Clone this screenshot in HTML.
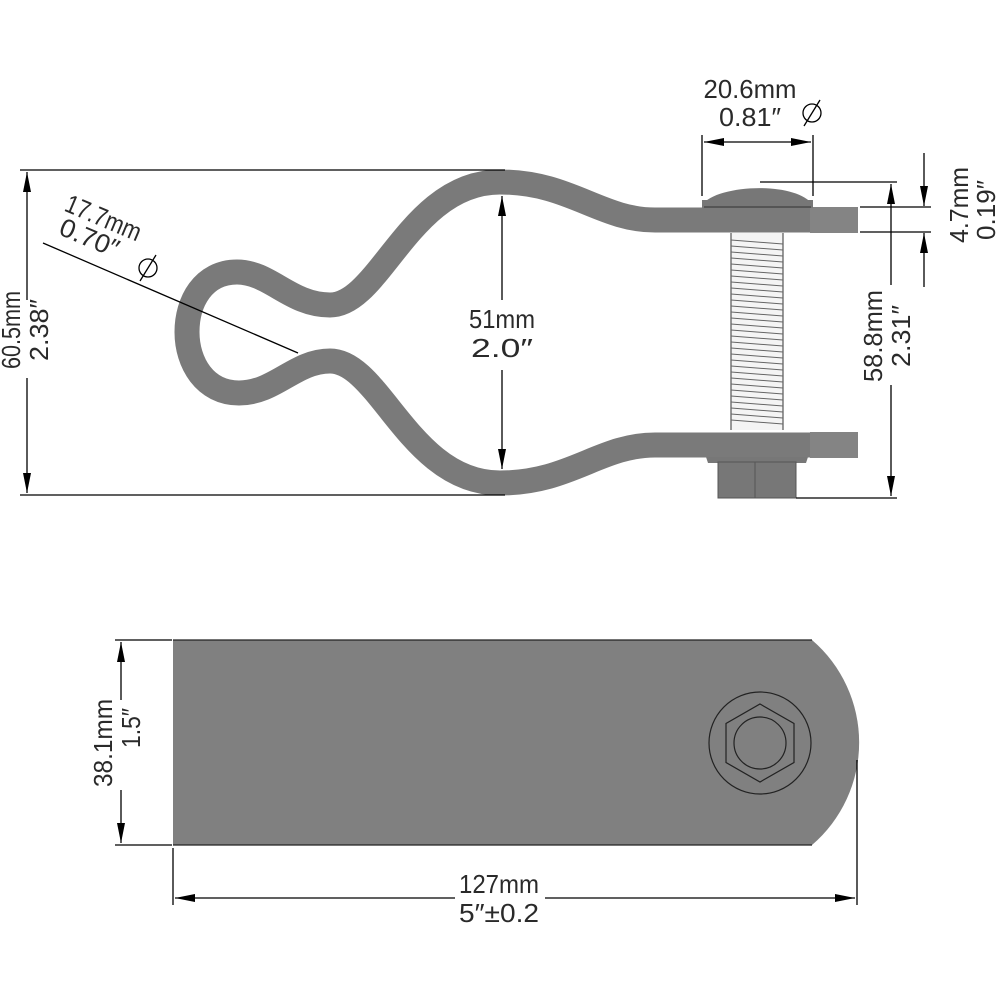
<!DOCTYPE html>
<html><head><meta charset="utf-8"><style>
html,body{margin:0;padding:0;background:#fff;}
svg{display:block;}
text{font-family:"Liberation Sans Narrow","Liberation Sans",sans-serif;font-size:26px;fill:#2a2a2a;}
</style></head><body>
<svg width="1000" height="1000" viewBox="0 0 1000 1000" xmlns="http://www.w3.org/2000/svg">
<defs>
<marker id="a" viewBox="0 0 20 8" refX="20" refY="4" markerWidth="20" markerHeight="8" markerUnits="userSpaceOnUse" orient="auto-start-reverse"><path d="M0 0L20 4L0 8z" fill="#000"/></marker>
</defs>
<!-- clamp side view -->
<path d="M858 220 L655 220 C600 220 570 182 500 182 C410 182 380 305 330 305 C290 305 270 272 237 272 C203 272 187 302 187 332 C187 363 205 393 239 393 C275 393 295 361 330 361 C380 361 410 483 500 483 C570 483 600 445 655 445 L858 445" fill="none" stroke="#7a7a7a" stroke-width="25"/>
<rect x="810" y="207" width="48" height="26" fill="#848484"/>
<rect x="810" y="432" width="48" height="26" fill="#848484"/>
<!-- bolt head dome -->
<path d="M702 205 C715 185 795 180 813 205 Z" fill="#777"/>
<rect x="702" y="200" width="111" height="8" fill="#777"/>
<line x1="704" y1="207" x2="811" y2="207" stroke="#333" stroke-width="1"/>
<!-- thread -->
<rect x="731" y="233" width="52" height="197" fill="#f4f4f4"/>
<g stroke="#555" stroke-width="1.2">
<line x1="731" y1="233" x2="731" y2="430"/><line x1="783" y1="233" x2="783" y2="430"/>
</g>
<path d="M731 240 L783 244 M731 246 L783 250 M731 252 L783 256 M731 258 L783 262 M731 264 L783 268 M731 270 L783 274 M731 276 L783 280 M731 282 L783 286 M731 288 L783 292 M731 294 L783 298 M731 300 L783 304 M731 306 L783 310 M731 312 L783 316 M731 318 L783 322 M731 324 L783 328 M731 330 L783 334 M731 336 L783 340 M731 342 L783 346 M731 348 L783 352 M731 354 L783 358 M731 360 L783 364 M731 366 L783 370 M731 372 L783 376 M731 378 L783 382 M731 384 L783 388 M731 390 L783 394 M731 396 L783 400 M731 402 L783 406 M731 408 L783 412 M731 414 L783 418 M731 420 L783 424" stroke="#666" stroke-width="1"/>
<!-- nut -->
<path d="M706 457 L808 457 L806 463 L708 463 Z" fill="#777"/>
<rect x="718" y="462" width="78" height="36" fill="#777" stroke="#555" stroke-width="1"/>
<line x1="755" y1="462" x2="755" y2="498" stroke="#555" stroke-width="1"/>
<!-- dimension lines top -->
<g stroke="#000" stroke-width="1.3" fill="none">
<line x1="20" y1="170" x2="505" y2="170"/>
<line x1="20" y1="495" x2="505" y2="495"/>
<line x1="27" y1="172" x2="27" y2="300" marker-start="url(#a)"/>
<line x1="27" y1="378" x2="27" y2="493" marker-end="url(#a)"/>
<line x1="502" y1="196" x2="502" y2="300" marker-start="url(#a)"/>
<line x1="502" y1="370" x2="502" y2="469" marker-end="url(#a)"/>
<line x1="43" y1="243" x2="298" y2="353"/>
<line x1="702" y1="135" x2="702" y2="196"/>
<line x1="813" y1="135" x2="813" y2="196"/>
<line x1="704" y1="142" x2="811" y2="142" marker-start="url(#a)" marker-end="url(#a)"/>
<line x1="760" y1="182" x2="897" y2="182"/>
<line x1="860" y1="207" x2="931" y2="207"/>
<line x1="860" y1="232" x2="931" y2="232"/>
<line x1="796" y1="498" x2="897" y2="498"/>
<line x1="891" y1="184" x2="891" y2="285" marker-start="url(#a)"/>
<line x1="891" y1="385" x2="891" y2="496" marker-end="url(#a)"/>
<line x1="924" y1="153" x2="924" y2="206" marker-end="url(#a)"/>
<line x1="924" y1="287" x2="924" y2="233" marker-end="url(#a)"/>
<!-- diameter symbols -->
<circle cx="812" cy="113" r="9"/><line x1="804" y1="126" x2="820" y2="100"/>
<circle cx="148" cy="268" r="9"/><line x1="140" y1="281" x2="156" y2="255"/>
</g>
<!-- labels top -->
<text x="750" y="98" text-anchor="middle" textLength="93" lengthAdjust="spacingAndGlyphs">20.6mm</text>
<text x="750" y="126" text-anchor="middle" textLength="62" lengthAdjust="spacingAndGlyphs">0.81″</text>
<text x="502" y="328" text-anchor="middle" textLength="66" lengthAdjust="spacingAndGlyphs">51mm</text>
<text x="502" y="357" text-anchor="middle" textLength="62" lengthAdjust="spacingAndGlyphs">2.0″</text>
<text transform="translate(20,330) rotate(-90)" text-anchor="middle" textLength="78" lengthAdjust="spacingAndGlyphs">60.5mm</text>
<text transform="translate(48,330) rotate(-90)" text-anchor="middle" textLength="62" lengthAdjust="spacingAndGlyphs">2.38″</text>
<text transform="translate(882,336) rotate(-90)" text-anchor="middle" textLength="92" lengthAdjust="spacingAndGlyphs">58.8mm</text>
<text transform="translate(910,336) rotate(-90)" text-anchor="middle" textLength="62" lengthAdjust="spacingAndGlyphs">2.31″</text>
<text transform="translate(968,205) rotate(-90)" text-anchor="middle" textLength="76" lengthAdjust="spacingAndGlyphs">4.7mm</text>
<text transform="translate(995,210) rotate(-90)" text-anchor="middle" textLength="60" lengthAdjust="spacingAndGlyphs">0.19″</text>
<text transform="translate(100,226) rotate(23)" text-anchor="middle" textLength="80" lengthAdjust="spacingAndGlyphs">17.7mm</text>
<text transform="translate(86,246) rotate(23)" text-anchor="middle" textLength="62" lengthAdjust="spacingAndGlyphs">0.70″</text>
<!-- bottom view -->
<path d="M173 640 L812 640 A135 135 0 0 1 812 845 L173 845 Z" fill="#808080"/>
<line x1="173" y1="640" x2="812" y2="640" stroke="#222" stroke-width="1.3"/>
<line x1="173" y1="845" x2="812" y2="845" stroke="#222" stroke-width="1.3"/>
<g stroke="#222" stroke-width="1.2" fill="none">
<circle cx="760" cy="743" r="51"/>
<polygon points="760,704 794,723.5 794,762.5 760,782 726,762.5 726,723.5"/>
<circle cx="760" cy="743" r="26"/>
</g>
<g stroke="#000" stroke-width="1.3" fill="none">
<line x1="115" y1="640" x2="172" y2="640"/>
<line x1="115" y1="845" x2="172" y2="845"/>
<line x1="121" y1="642" x2="121" y2="700" marker-start="url(#a)"/>
<line x1="121" y1="790" x2="121" y2="843" marker-end="url(#a)"/>
<line x1="173" y1="848" x2="173" y2="905"/>
<line x1="857" y1="760" x2="857" y2="905"/>
<line x1="175" y1="898" x2="455" y2="898" marker-start="url(#a)"/>
<line x1="545" y1="898" x2="855" y2="898" marker-end="url(#a)"/>
</g>
<text transform="translate(112,743) rotate(-90)" text-anchor="middle" textLength="88" lengthAdjust="spacingAndGlyphs">38.1mm</text>
<text transform="translate(140,728) rotate(-90)" text-anchor="middle" textLength="40" lengthAdjust="spacingAndGlyphs">1.5″</text>
<text x="499" y="893" text-anchor="middle" textLength="80" lengthAdjust="spacingAndGlyphs">127mm</text>
<text x="499" y="922" text-anchor="middle" textLength="80" lengthAdjust="spacingAndGlyphs">5″±0.2</text>
</svg>
</body></html>
